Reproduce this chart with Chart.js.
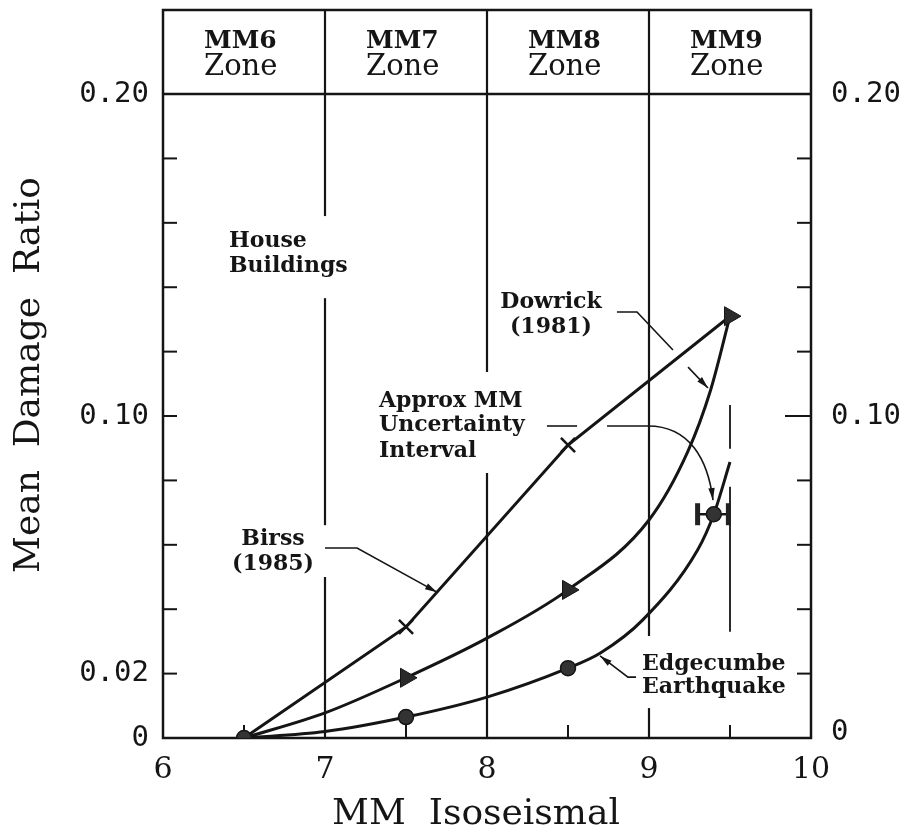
<!DOCTYPE html>
<html>
<head>
<meta charset="utf-8">
<script src="https://cdn.jsdelivr.net/npm/chart.js@4.4.1/dist/chart.umd.min.js"></script>
<style>
  html, body { margin: 0; padding: 0; background: #fff; }
  #wrap { width: 899px; height: 837px; }
</style>
</head>
<body>
<div id="wrap"><canvas id="c" width="899" height="837"></canvas></div>
<script>
// Mean damage ratio for house buildings against MM intensity
const mmLevels = [6.5, 7.5, 8.5, 9.5];
const birssRatio = [0, 0.0345, 0.091, 0.131];
const dowrickRatio = [0, 0.0187, 0.046, 0.131];
const dowrickCurveMM = [6.5, 7.0, 7.5, 8.0, 8.5, 9.0, 9.24, 9.38, 9.5];
const dowrickCurveRatio = [0, 0.0078, 0.0187, 0.031, 0.046, 0.0677, 0.089, 0.108, 0.131];
const edgecumbeMM = [6.5, 7.5, 8.5, 9.4];
const edgecumbeRatio = [0, 0.0065, 0.0217, 0.0695];
const edgecumbeCurveMM = [6.5, 7.0, 7.5, 8.0, 8.5, 8.7, 8.96, 9.3, 9.4, 9.5];
const edgecumbeCurveRatio = [0, 0.002, 0.0065, 0.0127, 0.0217, 0.0264, 0.0366, 0.0584, 0.0695, 0.0857];
const uncertaintyMM = [9.3, 9.49];
const uncertaintyRatio = 0.0695;
const uncertaintyMarkerMM = 9.5;

// Axes
const zoneBounds = [6, 7, 8, 9, 10];
const zoneNames = ['MM6', 'MM7', 'MM8', 'MM9'];
const xTickValues = [6, 7, 8, 9, 10];
const xTickLabels = ['6', '7', '8', '9', '10'];
const xMinorTicks = [6.5, 7.5, 8.5, 9.5];
const yTickValues = [0.02, 0.04, 0.06, 0.08, 0.10, 0.12, 0.14, 0.16, 0.18];
const yLabelValues = [0, 0.02, 0.10, 0.20];
const yLabelText = ['0', '0.02', '0.10', '0.20'];
const yRightLabelValues = [0, 0.10, 0.20];
const yRightLabelText = ['0', '0.10', '0.20'];

const INK = '#151515';
const toXY = (xs, ys) => xs.map((v, i) => ({ x: v, y: ys[i] }));

function strokePath(ctx, pts) {
  ctx.beginPath();
  pts.forEach((p, i) => i ? ctx.lineTo(p[0], p[1]) : ctx.moveTo(p[0], p[1]));
  ctx.stroke();
}
function arrowHead(ctx, fx, fy, tx, ty) {
  const ang = Math.atan2(ty - fy, tx - fx), L = 12, W = 3.2;
  ctx.beginPath();
  ctx.moveTo(tx, ty);
  ctx.lineTo(tx - L * Math.cos(ang) + W * Math.sin(ang), ty - L * Math.sin(ang) - W * Math.cos(ang));
  ctx.lineTo(tx - L * Math.cos(ang) - W * Math.sin(ang), ty - L * Math.sin(ang) + W * Math.cos(ang));
  ctx.closePath();
  ctx.fill();
}

const decor = {
  id: 'decor',
  beforeDatasetsDraw(chart) {
    const { ctx, chartArea: a, scales: { x, y } } = chart;
    const X = v => x.getPixelForValue(v), Y = v => y.getPixelForValue(v);
    ctx.save();
    ctx.strokeStyle = INK;
    ctx.fillStyle = INK;
    ctx.lineCap = 'butt';

    // frame and header separator
    ctx.lineWidth = 2.5;
    ctx.strokeRect(a.left, a.top, a.right - a.left, a.bottom - a.top);
    strokePath(ctx, [[a.left, Y(0.20)], [a.right, Y(0.20)]]);

    // zone boundaries, broken where text sits
    const gaps = { 7: [[0.1366, 0.1621], [0.050, 0.0661]], 8: [[0.0823, 0.1137]], 9: [[0.0093, 0.0317]] };
    ctx.lineWidth = 2.2;
    zoneBounds.slice(1, -1).forEach(b => {
      let from = 0;
      const g = (gaps[b] || []).slice().sort((p, q) => p[0] - q[0]);
      g.forEach(([lo, hi]) => {
        strokePath(ctx, [[X(b), Y(from)], [X(b), Y(lo)]]);
        from = hi;
      });
      strokePath(ctx, [[X(b), Y(from)], [X(b), a.top]]);
    });

    // inward ticks
    ctx.lineWidth = 2;
    yTickValues.forEach(v => {
      strokePath(ctx, [[a.left, Y(v)], [a.left + 14, Y(v)]]);
      const len = Math.abs(v - 0.10) < 1e-9 ? 26 : 14;
      strokePath(ctx, [[a.right - len, Y(v)], [a.right, Y(v)]]);
    });
    xMinorTicks.forEach(v => strokePath(ctx, [[X(v), a.bottom], [X(v), a.bottom - 13]]));

    // dashed reference at the top of the MM9 interval
    ctx.lineWidth = 1.8;
    [[0.1034, 0.0898], [0.078, 0.033]].forEach(([t, b]) =>
      strokePath(ctx, [[X(uncertaintyMarkerMM), Y(t)], [X(uncertaintyMarkerMM), Y(b)]]));

    // leader lines
    ctx.lineWidth = 1.6;
    const P = (mx, r) => [X(mx), Y(r)];
    const leader = (pts, arrow) => {
      strokePath(ctx, pts);
      if (arrow) { const n = pts.length; arrowHead(ctx, pts[n - 2][0], pts[n - 2][1], pts[n - 1][0], pts[n - 1][1]); }
    };
    leader([P(7.0, 0.059), P(7.198, 0.059), P(7.691, 0.0453)], true);
    leader([P(8.802, 0.1323), P(8.926, 0.1323), P(9.148, 0.1205)], false);
    leader([P(9.241, 0.1152), P(9.364, 0.1087)], true);
    leader([P(8.37, 0.0969), P(8.556, 0.0969)], false);
    const s = P(8.741, 0.0969), e1 = P(8.994, 0.0969), c1 = P(9.253, 0.0969), c2 = P(9.364, 0.0863), t = P(9.395, 0.0739);
    ctx.beginPath();
    ctx.moveTo(s[0], s[1]); ctx.lineTo(e1[0], e1[1]);
    ctx.bezierCurveTo(c1[0], c1[1], c2[0], c2[1], t[0], t[1]);
    ctx.stroke();
    arrowHead(ctx, c2[0], c2[1], t[0], t[1]);
    leader([P(8.92, 0.0189), P(8.87, 0.0189), P(8.698, 0.0255)], true);
    ctx.restore();
  },
  afterDatasetsDraw(chart) {
    const { ctx, chartArea: a, scales: { x, y } } = chart;
    const X = v => x.getPixelForValue(v), Y = v => y.getPixelForValue(v);
    ctx.save();
    ctx.fillStyle = INK;

    // y tick labels, both sides
    ctx.font = '29px "DejaVu Sans Mono"';
    ctx.textBaseline = 'middle';
    ctx.textAlign = 'right';
    yLabelValues.forEach((v, i) => ctx.fillText(yLabelText[i], a.left - 14, Y(v)));
    ctx.textAlign = 'left';
    yRightLabelValues.forEach((v, i) => ctx.fillText(yRightLabelText[i], a.right + 20, Y(v) - (v === 0 ? 6 : 0)));

    // x tick labels
    ctx.font = '30px "DejaVu Serif"';
    ctx.textAlign = 'center';
    xTickValues.forEach((v, i) => ctx.fillText(xTickLabels[i], X(v), a.bottom + 32));

    // axis titles
    ctx.font = '36px "DejaVu Serif"';
    ctx.fillText('MM  Isoseismal', 476, 815);
    ctx.save();
    ctx.translate(30, 375);
    ctx.rotate(-Math.PI / 2);
    ctx.fillText('Mean  Damage  Ratio', 0, 0);
    ctx.restore();

    // zone header
    ctx.textAlign = 'left';
    ctx.textBaseline = 'alphabetic';
    zoneNames.forEach((n, i) => {
      const lx = X(zoneBounds[i]) + 41;
      ctx.font = 'bold 25px "DejaVu Serif"';
      ctx.fillText(n, lx, Y(0.2143));
      ctx.font = '29px "DejaVu Serif"';
      ctx.fillText('Zone', lx, Y(0.2059));
    });

    // annotations
    ctx.font = 'bold 22px "DejaVu Serif"';
    ctx.fillText('House', X(6.407), Y(0.1525));
    ctx.fillText('Buildings', X(6.407), Y(0.1447));
    ctx.fillText('Approx MM', X(7.333), Y(0.1028));
    ctx.fillText('Uncertainty', X(7.333), Y(0.0953));
    ctx.fillText('Interval', X(7.333), Y(0.0873));
    ctx.fillText('Edgecumbe', X(8.957), Y(0.0211));
    ctx.fillText('Earthquake', X(8.957), Y(0.014));
    ctx.textAlign = 'center';
    ctx.fillText('Birss', X(6.679), Y(0.0599));
    ctx.fillText('(1985)', X(6.679), Y(0.0522));
    ctx.fillText('Dowrick', X(8.395), Y(0.1335));
    ctx.fillText('(1981)', X(8.395), Y(0.1258));
    ctx.restore();
  }
};

const lineBase = { showLine: true, pointRadius: 0, borderColor: INK, borderWidth: 3, fill: false };
const markBase = { showLine: false, borderColor: INK, backgroundColor: '#2a2a2a' };

new Chart(document.getElementById('c'), {
  type: 'scatter',
  data: {
    datasets: [
      { ...lineBase, label: 'Birss (1985)', data: toXY(mmLevels, birssRatio), tension: 0, order: 5 },
      { ...lineBase, label: 'Dowrick (1981)', data: toXY(dowrickCurveMM, dowrickCurveRatio), cubicInterpolationMode: 'monotone', order: 5 },
      { ...lineBase, label: 'Edgecumbe Earthquake', data: toXY(edgecumbeCurveMM, edgecumbeCurveRatio), cubicInterpolationMode: 'monotone', order: 5 },
      { label: 'Uncertainty interval', data: uncertaintyMM.map(v => ({ x: v, y: uncertaintyRatio })), showLine: true,
        borderColor: INK, borderWidth: 2.5, pointStyle: 'line', rotation: 90, pointRadius: 11,
        pointBorderWidth: 5, pointBorderColor: '#222', order: 4 },
      { ...markBase, label: 'Birss points', data: toXY(mmLevels.slice(1, 3), birssRatio.slice(1, 3)),
        pointStyle: 'crossRot', pointRadius: 10, pointBorderWidth: 2.5, order: 1 },
      { ...markBase, label: 'Dowrick points', data: toXY(mmLevels.slice(1), dowrickRatio.slice(1)),
        pointStyle: 'triangle', rotation: 90, pointRadius: 11, pointBorderWidth: 1, order: 1 },
      { ...markBase, label: 'Edgecumbe points', data: toXY(edgecumbeMM, edgecumbeRatio),
        pointStyle: 'circle', pointRadius: 7.5, pointBorderWidth: 1.5, backgroundColor: '#333', order: 1 }
    ]
  },
  options: {
    responsive: false,
    animation: false,
    devicePixelRatio: 1,
    layout: { autoPadding: false, padding: { left: 163, right: 88, top: 10, bottom: 99 } },
    plugins: { legend: { display: false }, tooltip: { enabled: false } },
    scales: {
      x: { type: 'linear', min: 6, max: 10, display: false },
      y: { type: 'linear', min: 0, max: 0.2261, display: false }
    }
  },
  plugins: [decor]
});
</script>
</body>
</html>
